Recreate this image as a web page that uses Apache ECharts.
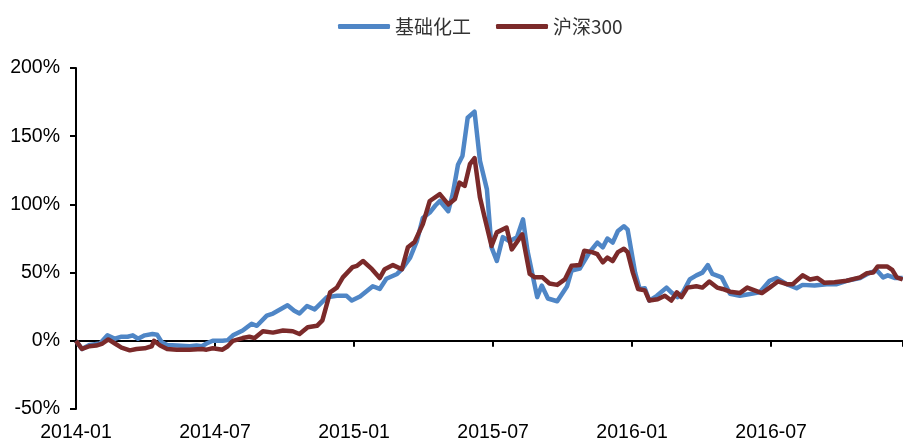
<!DOCTYPE html>
<html>
<head>
<meta charset="utf-8">
<script src="https://cdn.jsdelivr.net/npm/echarts@6/dist/echarts.min.js"></script>
<style>
html,body{margin:0;padding:0;background:#fff;}
#chart{width:903px;height:443px;}
</style>
</head>
<body>
<div id="chart"></div>
<script>
const seriesNames = ['基础化工', '沪深300'];
const xTickLabels = ['2014-01', '2014-07', '2015-01', '2015-07', '2016-01', '2016-07'];
const yTickValues = [-50, 0, 50, 100, 150, 200];

const chemDates = ['2014-01-01','2014-01-09','2014-01-19','2014-02-02','2014-02-11','2014-02-20','2014-02-28','2014-03-08','2014-03-15','2014-03-22','2014-03-31','2014-04-10','2014-04-16','2014-04-22','2014-04-29','2014-05-12','2014-05-29','2014-06-07','2014-06-14','2014-06-20','2014-06-28','2014-07-11','2014-07-18','2014-07-25','2014-08-07','2014-08-19','2014-08-26','2014-09-08','2014-09-16','2014-10-05','2014-10-14','2014-10-21','2014-10-31','2014-11-10','2014-11-26','2014-12-09','2014-12-22','2014-12-29','2015-01-09','2015-01-26','2015-02-04','2015-02-12','2015-02-25','2015-03-03','2015-03-14','2015-03-23','2015-03-31','2015-04-09','2015-04-16','2015-04-22','2015-05-03','2015-05-09','2015-05-16','2015-05-22','2015-05-29','2015-06-07','2015-06-14','2015-06-23','2015-06-29','2015-07-06','2015-07-14','2015-07-23','2015-08-02','2015-08-10','2015-08-16','2015-08-29','2015-09-04','2015-09-12','2015-09-24','2015-10-07','2015-10-13','2015-10-24','2015-11-06','2015-11-16','2015-11-23','2015-11-29','2015-12-06','2015-12-13','2015-12-21','2015-12-26','2016-01-05','2016-01-11','2016-01-18','2016-01-24','2016-02-03','2016-02-15','2016-02-21','2016-02-29','2016-03-07','2016-03-16','2016-03-25','2016-04-02','2016-04-09','2016-04-15','2016-04-27','2016-05-01','2016-05-08','2016-05-21','2016-05-31','2016-06-16','2016-06-29','2016-07-08','2016-07-22','2016-08-04','2016-08-12','2016-08-28','2016-09-13','2016-09-26','2016-10-09','2016-10-27','2016-11-09','2016-11-18','2016-11-26','2016-12-02','2016-12-12','2016-12-22'];
const chemValues = [0,-6,-3,-2,4,1.5,3,3,4,1.5,4,5,4.5,-1,-3,-3.5,-4,-3.5,-4,-2,0,0,0.5,4,7.5,12.5,11,18.5,20,26,22,20,25.5,23,32,33,33,29.5,32.5,40,38,45.5,49,52.5,61,73,90,94,99,102.5,95,107.5,129,135.5,163.5,168,132,111,68.5,58.5,76,73,76,89,66,32,40.5,31,29,40,51.5,53,65,72,68.5,75,72,80.5,84,81.5,50,38,38.5,29.5,33,39,35.5,32,35.5,45,48,50,55.5,49,46.5,42,34.5,33,34,35.5,44,46,41.5,38.5,41,40.5,41.5,41.5,44,46,50,51.5,46.5,48,46,46];

const hs300Dates = ['2014-01-01','2014-01-09','2014-01-19','2014-01-28','2014-02-05','2014-02-12','2014-02-20','2014-02-28','2014-03-11','2014-03-20','2014-03-31','2014-04-09','2014-04-12','2014-04-20','2014-04-29','2014-05-12','2014-05-29','2014-06-14','2014-06-20','2014-06-28','2014-07-11','2014-07-18','2014-07-25','2014-08-07','2014-08-16','2014-08-23','2014-09-03','2014-09-16','2014-09-29','2014-10-12','2014-10-21','2014-11-01','2014-11-13','2014-11-20','2014-11-30','2014-12-09','2014-12-17','2014-12-30','2015-01-05','2015-01-13','2015-01-25','2015-02-04','2015-02-10','2015-02-20','2015-03-03','2015-03-11','2015-03-20','2015-03-31','2015-04-09','2015-04-22','2015-05-03','2015-05-12','2015-05-18','2015-05-25','2015-06-01','2015-06-07','2015-06-14','2015-06-20','2015-06-29','2015-07-06','2015-07-19','2015-07-26','2015-08-09','2015-08-19','2015-08-26','2015-09-05','2015-09-14','2015-09-24','2015-10-04','2015-10-13','2015-10-24','2015-10-30','2015-11-09','2015-11-16','2015-11-23','2015-11-29','2015-12-06','2015-12-13','2015-12-21','2015-12-26','2016-01-02','2016-01-09','2016-01-18','2016-01-24','2016-02-04','2016-02-13','2016-02-21','2016-02-28','2016-03-05','2016-03-13','2016-03-25','2016-04-02','2016-04-11','2016-04-21','2016-04-28','2016-05-08','2016-05-21','2016-05-31','2016-06-19','2016-06-29','2016-07-10','2016-07-22','2016-07-30','2016-08-12','2016-08-22','2016-09-01','2016-09-10','2016-09-23','2016-10-09','2016-10-27','2016-11-05','2016-11-13','2016-11-19','2016-12-01','2016-12-08','2016-12-14','2016-12-22'];
const hs300Values = [0,-6,-4,-3.5,-2,1,-2,-5,-7,-6,-5.5,-4,0,-3.5,-6,-6.5,-6.5,-6,-6.5,-5.5,-6.5,-4,0,2,3,2,7,6,7.5,7,5,10,11,15,35.5,39,46.5,54,55,58.5,52.5,46,52.5,55.5,52.5,68.5,72.5,85.5,102.5,107.5,100,104,116,113.5,129.5,134,105,90.5,69.5,79.5,83,67,78,49,46.5,46.5,42,41,45,55,55.5,66,65,63.5,57.5,61,58.5,65,67.5,65,50,38,37,29.5,30.5,33,29.5,35.5,32,39,40,39,43.5,39,38,36,35,39,35,39,43.5,41.5,41.5,48,45,46,42.5,43,44,46.5,49.5,50,54.5,54.5,52,46.5,45];

const X_MAX = 35.69; // months after 2014-01-01 at the right edge of the plot

function toMonth(s) {
  const p = s.split('-').map(Number);
  const dim = new Date(p[0], p[1], 0).getDate();
  return (p[0] - 2014) * 12 + (p[1] - 1) + (p[2] - 1) / dim;
}
function pairs(dates, vals) {
  return dates.map((d, i) => [toMonth(d), vals[i]]);
}
function monthLabel(v) {
  const i = Math.round(v / 6);
  if (Math.abs(v - i * 6) > 1e-6) return '';
  return xTickLabels[i] || '';
}

const chart = echarts.init(document.getElementById('chart'), null, {renderer: 'canvas'});
const axisFont = {fontFamily: 'Liberation Sans, Arial, sans-serif', fontSize: 19.5, color: '#000'};

chart.setOption({
  animation: false,
  backgroundColor: '#fff',
  legend: {
    left: 333,
    top: 12,
    itemWidth: 52,
    itemHeight: 5,
    itemGap: 25,
    icon: 'roundRect',
    textStyle: {fontFamily: 'Noto Sans CJK SC', fontSize: 19, color: '#333'},
    data: seriesNames
  },
  grid: {left: 76, right: 0, top: 68, bottom: 33, containLabel: false},
  xAxis: [
    {
      type: 'value', min: 0, max: X_MAX, interval: 6,
      axisLine: {show: true, onZero: true, lineStyle: {color: '#000', width: 2}},
      axisTick: {show: true, length: 6, inside: false, lineStyle: {color: '#000', width: 2}},
      axisLabel: {show: false},
      splitLine: {show: false}
    },
    {
      type: 'value', min: 0, max: X_MAX, interval: 6, position: 'bottom',
      axisLine: {show: false, onZero: false},
      axisTick: {show: false},
      axisLabel: Object.assign({show: true, margin: 14, showMaxLabel: false, formatter: monthLabel}, axisFont),
      splitLine: {show: false}
    }
  ],
  yAxis: {
    type: 'value', min: yTickValues[0], max: yTickValues[yTickValues.length - 1], interval: 50,
    axisLine: {show: true, lineStyle: {color: '#000', width: 2}},
    axisTick: {show: true, length: 6, inside: false, lineStyle: {color: '#000', width: 2}},
    axisLabel: Object.assign({margin: 16, formatter: '{value}%'}, axisFont),
    splitLine: {show: false}
  },
  series: [
    {
      name: seriesNames[0], type: 'line', xAxisIndex: 0,
      data: pairs(chemDates, chemValues),
      showSymbol: false, symbol: 'none',
      lineStyle: {color: '#4f86c6', width: 4.5, join: 'round'},
      itemStyle: {color: '#4f86c6'}
    },
    {
      name: seriesNames[1], type: 'line', xAxisIndex: 0,
      data: pairs(hs300Dates, hs300Values),
      showSymbol: false, symbol: 'none',
      lineStyle: {color: '#7b2a2a', width: 4.5, join: 'round'},
      itemStyle: {color: '#7b2a2a'}
    }
  ]
});
</script>
</body>
</html>
